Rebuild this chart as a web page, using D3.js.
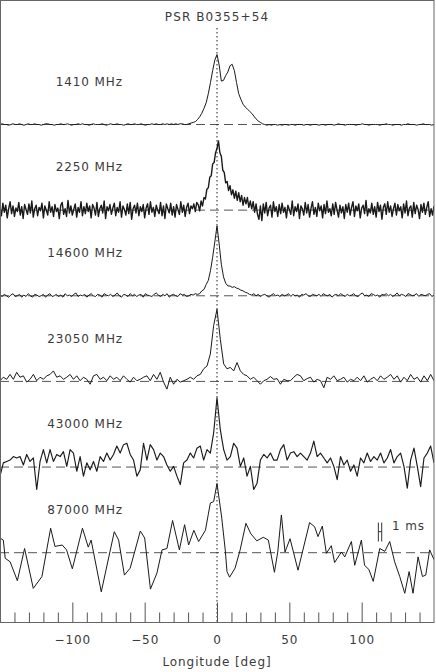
<!DOCTYPE html>
<html><head><meta charset="utf-8">
<script src="https://cdn.jsdelivr.net/npm/d3@7"></script>
<style>body{margin:0;background:#fff}svg{display:block}</style>
</head><body><svg id="c" width="436" height="672"></svg>
<script>
// ---------------- data ----------------
const titleText = "PSR B0355+54";
const freqLabels = ["1410 MHz","2250 MHz","14600 MHz","23050 MHz","43000 MHz","87000 MHz"];
const lonDomain = [-150, 150];
const majorTicks = [-100, -50, 0, 50, 100];
const minorTicks = [-140,-130,-120,-110,-90,-80,-70,-60,-40,-30,-20,-10,10,20,30,40,60,70,80,90,110,120,130,140];

// uniformly sampled profiles (normalised intensity), spanning -150..150 deg
const amp1410 = [
0.00,0.01,0.00,0.00,-0.01,0.00,0.01,0.00,0.00,0.01,0.00,-0.01,0.00,0.01,0.00,0.00,0.01,0.00,0.00,-0.01,
0.00,0.01,0.01,0.00,0.00,-0.01,0.00,0.00,0.01,0.00,0.00,0.01,0.00,-0.01,0.00,0.00,0.01,0.00,0.01,0.00,
0.00,-0.01,0.00,0.01,0.00,0.00,0.00,0.01,0.00,-0.01,0.00,0.01,0.00,0.00,0.01,0.00,0.00,-0.01,0.00,0.01,
0.00,0.00,0.01,0.00,0.00,0.01,0.00,-0.01,0.00,0.00,0.01,0.00,0.01,0.00,0.00,0.01,0.00,0.01,0.00,0.01,
0.00,0.01,0.00,0.01,0.01,0.00,
0.00,0.01,0.02,0.03,0.04,0.07,0.11,0.16,0.23,0.31,0.44,0.60,0.77,0.92,1.00,0.85,0.62,0.63,0.70,0.75,
0.84,0.86,0.77,0.60,0.44,0.36,0.29,0.25,0.22,0.19,0.16,0.12,0.08,0.05,0.03,0.01,0.00,
-0.01,0.00,-0.01,0.00,0.00,-0.01,0.00,-0.01,0.00,0.00,-0.01,0.00,0.00,-0.01,0.00,0.00,0.00,-0.01,0.00,0.00,
-0.01,0.00,0.00,0.00,-0.01,0.00,0.00,-0.01,0.00,0.00,0.00,-0.01,0.00,0.01,0.00,0.00,-0.01,0.00,0.00,0.00,
0.00,-0.01,0.00,0.00,0.01,0.00,0.00,-0.01,0.00,0.00,0.00,0.00,-0.01,0.00,0.00,0.01,0.00,0.00,-0.01,0.00,
0.00,0.00,-0.01,0.00,0.00,0.01,0.00,0.00,0.00,-0.01,0.00,0.00,0.01,0.00,0.00,0.00,-0.01,0.00];

const amp2250 = [
0.04,-0.08,0.10,-0.03,0.07,-0.11,0.02,0.12,-0.05,0.06,-0.09,0.03,-0.02,0.11,-0.07,0.05,-0.12,0.08,0.01,-0.06,
0.09,-0.04,0.13,-0.10,0.02,0.07,-0.08,0.04,-0.01,0.10,-0.11,0.06,0.00,-0.07,0.12,-0.03,0.05,-0.09,0.08,-0.02,
0.03,-0.12,0.07,0.11,-0.06,0.02,-0.09,0.14,-0.04,0.06,-0.07,0.01,0.09,-0.10,0.04,-0.03,0.12,-0.08,0.05,-0.05,
0.10,-0.02,0.06,-0.11,0.08,0.03,-0.07,0.11,-0.09,0.02,0.07,-0.04,0.13,-0.12,0.05,-0.01,0.08,-0.06,0.03,0.10,
-0.08,0.04,-0.03,0.12,-0.10,0.06,0.01,-0.07,0.09,-0.05,0.11,-0.13,0.02,0.07,-0.04,0.10,-0.08,0.05,-0.02,0.08,
-0.11,0.03,0.09,-0.06,0.12,-0.03,0.04,-0.09,0.07,0.00,-0.05,0.11,-0.08,0.06,-0.12,0.09,0.02,-0.04,0.10,-0.07,
0.05,-0.10,0.08,0.01,-0.06,0.12,-0.03,0.07,-0.09,0.04,0.10,-0.05,0.06,0.02,0.09,-0.02,0.11,
0.08,-0.01,0.13,0.06,0.18,0.16,0.30,0.32,0.47,0.49,0.66,0.68,0.82,0.88,0.99,0.82,0.77,0.57,0.54,0.39,
0.41,0.28,0.35,0.22,0.29,0.17,0.27,0.14,0.25,0.12,0.21,0.07,0.18,0.09,0.18,0.04,0.13,0.02,0.12,-0.03,
0.09,-0.06,
-0.13,0.06,-0.15,0.09,-0.04,0.11,-0.08,0.03,0.07,-0.10,0.12,-0.02,0.05,-0.09,0.08,-0.05,0.10,-0.03,0.04,-0.11,
0.07,0.01,-0.06,0.13,-0.08,0.05,-0.02,0.09,-0.12,0.06,0.02,-0.07,0.11,-0.04,0.08,-0.10,0.03,0.12,-0.06,0.04,
-0.09,0.10,-0.01,0.06,-0.11,0.08,-0.05,0.13,-0.03,0.02,-0.08,0.09,-0.06,0.11,0.00,-0.10,0.07,-0.04,0.05,-0.12,
0.08,-0.03,0.10,-0.07,0.04,0.12,-0.09,0.06,-0.01,0.09,-0.11,0.03,0.07,-0.05,0.14,-0.08,0.02,-0.04,0.10,-0.06,
0.05,-0.10,0.11,-0.02,0.07,-0.13,0.04,0.09,-0.06,0.12,-0.03,0.06,-0.09,0.02,0.10,-0.07,0.08,-0.01,0.05,-0.11,
0.09,-0.04,0.13,-0.08,0.03,0.06,-0.10,0.11,-0.05,0.07,0.01,-0.12,0.08,-0.03,0.10,-0.06,0.04,0.12,-0.09,0.02,
-0.07,0.06];

const amp14600 = [
0.01,-0.01,0.02,0.00,-0.02,0.01,0.03,-0.01,0.00,0.02,-0.02,0.01,-0.01,0.03,0.00,-0.02,0.02,0.01,-0.01,0.00,
0.02,-0.02,0.01,0.03,-0.01,0.00,0.02,-0.01,0.01,-0.02,0.03,0.00,0.01,-0.01,0.02,0.04,-0.01,0.01,0.00,0.02,
-0.02,0.01,0.03,0.00,-0.01,0.02,0.01,-0.02,0.03,0.01,0.00,0.02,-0.01,0.01,0.04,0.00,-0.02,0.02,0.01,-0.01,
0.03,0.00,0.02,-0.01,0.01,0.02,-0.02,0.03,0.01,0.00,-0.01,0.02,0.04,0.01,-0.01,0.02,0.00,0.03,-0.02,0.01,
0.02,0.00,-0.01,0.03,0.01,0.02,-0.01,0.00,0.02,0.01,0.03,
0.02,0.03,0.07,0.09,0.16,0.22,0.36,0.55,0.77,1.00,0.74,0.45,0.27,0.18,0.14,0.14,0.12,0.13,0.11,0.10,
0.08,0.07,0.05,0.04,0.02,
0.01,0.03,0.00,0.02,-0.01,0.01,0.02,0.00,-0.02,0.01,0.03,0.00,0.01,-0.01,0.02,0.00,0.01,0.03,-0.01,0.02,
0.00,0.01,-0.02,0.02,0.01,0.03,0.00,-0.01,0.02,0.01,0.00,0.02,-0.01,0.03,0.01,0.00,0.02,-0.02,0.01,0.02,
0.00,0.03,0.01,-0.01,0.02,0.00,0.01,0.03,0.00,-0.01,0.02,0.04,0.00,0.01,-0.01,0.03,0.02,0.00,0.01,-0.02,
0.02,0.01,0.03,0.00,0.02,-0.01,0.01,0.04,0.00,0.02,0.01,-0.01,0.03,0.02,0.00,0.01,0.03,-0.01,0.02,0.01,
0.00,0.02,0.03,-0.01,0.01];

const amp23050 = [
0.01,0.06,0.03,0.10,0.03,0.13,0.06,0.08,-0.01,0.03,0.10,0.01,0.06,0.03,0.08,0.10,0.15,0.06,0.08,0.03,
0.06,0.10,0.03,0.08,0.01,0.06,0.03,-0.04,0.08,0.10,0.03,0.06,0.01,0.08,0.03,0.06,0.01,0.08,0.03,-0.01,
0.06,0.01,0.03,0.06,0.08,0.01,0.10,0.03,0.13,-0.01,-0.11,0.06,-0.04,0.03,-0.01,0.01,0.03,0.06,0.03,0.08,
0.10,0.18,0.22,0.39,0.80,1.03,0.60,0.25,0.18,0.20,0.15,0.27,0.15,0.10,0.08,0.03,0.06,0.01,-0.04,0.01,
0.03,0.07,0.03,0.04,-0.04,0.03,0.01,0.01,0.06,0.10,0.08,0.01,0.04,0.06,-0.01,0.03,0.01,-0.09,0.06,0.03,
0.08,0.01,0.03,0.06,-0.01,0.03,0.01,0.06,0.01,0.08,-0.01,0.03,0.06,0.01,0.08,0.03,0.06,0.10,0.03,0.08,
-0.01,0.06,0.01,0.10,0.03,0.06,-0.01,0.08,0.01,0.10,0.01];

const amp43000 = [
-0.13,0.06,0.08,0.10,0.15,0.13,0.15,0.03,0.18,0.08,0.13,-0.32,0.08,0.25,0.06,0.25,0.08,0.18,0.15,0.22,
0.01,0.25,0.20,-0.06,0.15,-0.13,0.06,-0.04,0.08,-0.06,0.15,0.08,0.20,0.10,0.18,0.30,0.20,0.32,0.34,0.18,
0.10,-0.13,-0.04,0.34,0.10,0.32,0.25,0.10,0.20,0.15,0.03,-0.06,0.01,-0.13,-0.25,0.06,0.10,0.20,0.13,0.27,
0.30,0.10,0.25,0.20,0.49,0.99,0.53,0.25,0.10,0.15,0.34,0.27,0.01,0.13,-0.13,0.01,-0.32,-0.23,0.10,0.18,
0.13,0.20,0.10,0.10,0.25,0.32,0.10,0.20,0.22,0.15,0.20,0.15,0.10,0.20,0.37,0.15,0.20,0.13,0.06,0.13,
0.01,-0.18,0.15,0.03,0.10,-0.06,0.03,-0.13,0.13,0.06,0.20,0.08,0.15,0.10,0.20,0.06,0.13,0.25,0.06,0.15,
0.20,0.01,-0.30,0.10,0.27,0.01,-0.28,0.13,0.20,0.30,0.06];

// 87000 MHz: irregular read-off points (longitude, intensity)
const lon87000 = [-150,-147.7,-146.4,-143,-138,-133,-127,-121,-115,-112,-107,-104,-100,-93,-89,-87,-80,-71,-68,-64,
 -60,-53,-50,-46,-41.5,-38,-34.6,-30.7,-26,-22.4,-19.6,-16,-12.7,-8,-6,-4.6,-2.3,0,3.2,5.7,
 6.9,8.7,12.5,16,20,23.4,27.5,32,35.5,39.7,42,44.5,47,50.5,56,64,67.5,69.8,72.8,75.6,
 79,81.3,86,88.3,92.9,95.2,99.8,102,105,108,112.5,116,119.4,122.8,126.3,129.8,132.8,135.5,139,142,
 144.3,147,150];
const amp87000 = [0.21,0.18,-0.08,-0.13,-0.40,0.06,-0.51,-0.34,0.35,0.09,0.11,0.04,-0.23,0.35,0.08,0.18,-0.56,0.30,0.18,-0.32,
 -0.22,0.31,0.21,-0.52,-0.29,0.04,0.06,0.46,0.04,0.40,0.11,0.32,0.16,0.32,0.55,0.71,0.73,0.99,0.51,0.04,
 -0.27,-0.35,-0.22,0.04,0.42,0.27,0.17,0.22,0.18,-0.28,0.01,0.54,0.01,0.20,-0.25,0.43,0.37,0.23,0.38,-0.01,
 0.10,-0.14,0.01,-0.06,0.16,-0.18,0.18,-0.18,-0.24,-0.41,0.06,0.02,0.16,-0.13,-0.34,-0.58,-0.27,-0.58,-0.06,-0.34,
 -0.32,0.04,-0.10];

// time-scale marker: 1 ms at P = 156.4 ms
const scaleBarLon = 112.7, scaleBarWidthDeg = 360 / 156.4, scaleBarText = "1 ms";

// ---------------- drawing ----------------
const svg = d3.select("#c");
const plotL = 0, plotR = 434, plotT = 0.5, plotB = 622.5;
const x = d3.scaleLinear().domain(lonDomain).range([plotL, plotR]);
const base = d3.scalePoint().domain(freqLabels).range([124.5, 552.7]);
const ampPx = 70;
const yFor = lab => d3.scaleLinear().domain([0, 1]).range([base(lab), base(lab) - ampPx]);
const grid = arr => arr.map((v, i) => [lonDomain[0] + i * (lonDomain[1] - lonDomain[0]) / (arr.length - 1), v]);

const series = [
  {lab: freqLabels[0], pts: grid(amp1410), w: 1},
  {lab: freqLabels[1], pts: grid(amp2250), w: 1.4},
  {lab: freqLabels[2], pts: grid(amp14600), w: 1},
  {lab: freqLabels[3], pts: grid(amp23050), w: 1},
  {lab: freqLabels[4], pts: grid(amp43000), w: 1.15},
  {lab: freqLabels[5], pts: lon87000.map((l, i) => [l, amp87000[i]]), w: 1}
];

svg.append("defs").append("clipPath").attr("id", "clip")
  .append("rect").attr("x", plotL).attr("y", plotT).attr("width", plotR - plotL).attr("height", plotB - plotT);

const font = "'DejaVu Sans', sans-serif";
const txtCol = "#3a3a3a";

// dashed baselines
svg.append("g").selectAll("line").data(freqLabels).join("line")
  .attr("x1", plotL).attr("x2", plotR)
  .attr("y1", d => base(d)).attr("y2", d => base(d))
  .attr("stroke", "#555").attr("stroke-width", 1).attr("stroke-dasharray", "9,5");

// dotted zero line
svg.append("line").attr("x1", x(0)).attr("x2", x(0)).attr("y1", 28).attr("y2", plotB)
  .attr("stroke", "#222").attr("stroke-width", 1).attr("stroke-dasharray", "1.5,2.5");

// profiles
const g = svg.append("g").attr("clip-path", "url(#clip)");
series.forEach(s => {
  const y = yFor(s.lab);
  const line = d3.line().x(d => x(d[0])).y(d => y(d[1]));
  g.append("path").datum(s.pts).attr("d", line)
    .attr("fill", "none").attr("stroke", "#1a1a1a").attr("stroke-width", s.w).attr("stroke-linejoin", "round");
});

// frequency labels
svg.append("g").selectAll("text").data(freqLabels).join("text")
  .attr("x", 123).attr("y", d => base(d) - 43).attr("dy", "0.36em")
  .attr("text-anchor", "end").attr("font-family", font).attr("font-size", 12)
  .attr("letter-spacing", 0.9).attr("fill", txtCol).text(d => d);

// title
svg.append("text").attr("x", x(0)).attr("y", 21).attr("text-anchor", "middle")
  .attr("font-family", font).attr("font-size", 12).attr("letter-spacing", 1.1)
  .attr("fill", txtCol).text(titleText);

// 1 ms scale marker
const y87 = yFor(freqLabels[5]);
const sb = svg.append("g").attr("stroke", "#333").attr("stroke-width", 1);
const sbL = x(scaleBarLon - scaleBarWidthDeg / 2), sbR = x(scaleBarLon + scaleBarWidthDeg / 2);
sb.append("line").attr("x1", sbL).attr("x2", sbL).attr("y1", y87(0.43)).attr("y2", y87(0.16));
sb.append("line").attr("x1", sbR).attr("x2", sbR).attr("y1", y87(0.43)).attr("y2", y87(0.16));
sb.append("line").attr("x1", sbL).attr("x2", sbR).attr("y1", y87(0.30)).attr("y2", y87(0.30));
svg.append("text").attr("x", x(121)).attr("y", y87(0.39)).attr("dy", "0.36em")
  .attr("font-family", font).attr("font-size", 12).attr("letter-spacing", 0.9)
  .attr("fill", txtCol).text(scaleBarText);

// frame
svg.append("rect").attr("x", plotL + 0.5).attr("y", plotT).attr("width", plotR - plotL - 0.5).attr("height", plotB - plotT)
  .attr("fill", "none").attr("stroke", "#666").attr("stroke-width", 1);

// axis
const fmt = d => d < 0 ? "\u2212" + Math.abs(d) : String(d);
const ax = svg.append("g").attr("transform", `translate(0,${plotB})`)
  .call(d3.axisBottom(x).tickValues(majorTicks).tickSize(-20).tickPadding(13).tickFormat(fmt));
ax.select(".domain").remove();
ax.selectAll("line").attr("stroke", "#555");
ax.selectAll("text").attr("font-family", font).attr("font-size", 12).attr("letter-spacing", 0.9).attr("fill", txtCol);
const axm = svg.append("g").attr("transform", `translate(0,${plotB})`)
  .call(d3.axisBottom(x).tickValues(minorTicks).tickSize(-10).tickFormat(""));
axm.select(".domain").remove();
axm.selectAll("line").attr("stroke", "#555");

svg.append("text").attr("x", x(0)).attr("y", 666).attr("text-anchor", "middle")
  .attr("font-family", font).attr("font-size", 12).attr("letter-spacing", 0.9)
  .attr("fill", txtCol).text("Longitude [deg]");
</script></body></html>
